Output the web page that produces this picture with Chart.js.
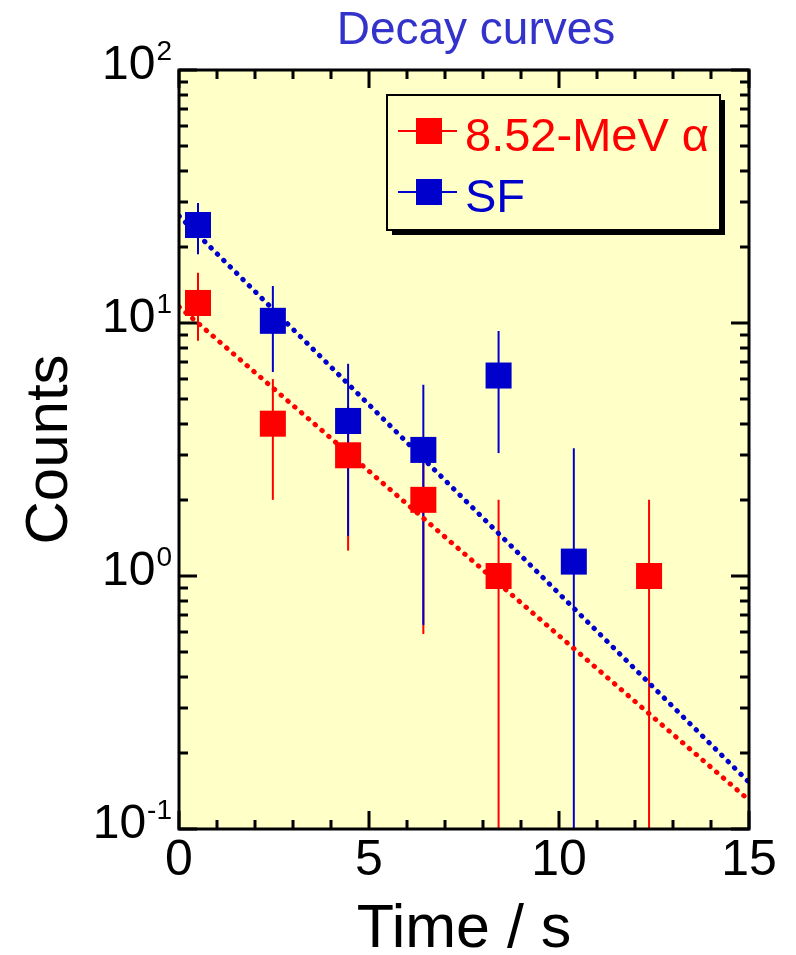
<!DOCTYPE html>
<html>
<head>
<meta charset="utf-8">
<script src="https://cdn.jsdelivr.net/npm/chart.js@4.4.0/dist/chart.umd.min.js"></script>
<style>
  html, body { margin: 0; padding: 0; background: #fff; }
  canvas { display: block; }
</style>
</head>
<body>
<canvas id="decay" width="796" height="955"></canvas>
<script>
// time bins (s)
const tBins = [0.5, 2.47, 4.45, 6.43, 8.41, 10.39, 12.37];

// 8.52-MeV alpha counts with error limits
const alphaCounts = [12, 4, 3, 2, 1, null, 1];
const alphaHigh = [15.8, 6.0, 4.7, 3.4, 2.0, null, 2.0];
const alphaLow = [8.5, 2.0, 1.26, 0.59, 0, null, 0];

// SF counts with error limits
const sfCounts = [24.4, 10.2, 4.1, 3.15, 6.2, 1.14, null];
const sfHigh = [29.8, 14.0, 6.9, 5.7, 9.3, 3.2, null];
const sfLow = [18.7, 6.4, 1.44, 0.64, 3.06, 0, null];

// fitted decay lines (straight on log axis)
const fitT = [0, 15];
const fitAlpha = [11.6, 0.13];
const fitSF = [26.5, 0.153];

// axis ticks
const yTickValues = [0.1, 0.2, 0.3, 0.4, 0.5, 0.6, 0.7, 0.8, 0.9,
  1, 2, 3, 4, 5, 6, 7, 8, 9,
  10, 20, 30, 40, 50, 60, 70, 80, 90, 100];
const yMajor = [0.1, 1, 10, 100];
const yExponents = ['-1', '0', '1', '2'];
const xMajor = [0, 5, 10, 15];

const RED = '#ff0000';
const BLUE = '#0000cc';
const PANEL = '#ffffc8';
const FONT = "'Liberation Sans', Arial, sans-serif";

const pts = (xs, ys) => xs.map((x, i) => ({ x, y: ys[i] })).filter((p) => p.y != null);

// ── Plugins ───────────────────────────────────────────────────────────────
const panelBg = {
    id: 'panelBg',
    beforeDraw(chart) {
        const { ctx, chartArea: a } = chart;
        ctx.save();
        ctx.fillStyle = PANEL;
        ctx.fillRect(a.left, a.top, a.right - a.left, a.bottom - a.top);
        ctx.restore();
    },
};

const errorBars = {
    id: 'errorBars',
    beforeDatasetsDraw(chart) {
        const { ctx, chartArea: a, scales: { x, y } } = chart;
        const draw = (lo, hi, color) => {
            ctx.strokeStyle = color;
            ctx.lineWidth = 2;
            tBins.forEach((t, i) => {
                if (hi[i] == null) return;
                const px = x.getPixelForValue(t);
                const top = y.getPixelForValue(hi[i]);
                const bot = lo[i] > 0 ? y.getPixelForValue(lo[i]) : a.bottom;
                ctx.beginPath();
                ctx.moveTo(px, top);
                ctx.lineTo(px, Math.min(bot, a.bottom));
                ctx.stroke();
            });
        };
        ctx.save();
        draw(alphaLow, alphaHigh, RED);
        draw(sfLow, sfHigh, BLUE);
        ctx.restore();
    },
};

const frame = {
    id: 'frame',
    afterDraw(chart) {
        const { ctx, chartArea: a, scales: { x, y } } = chart;
        ctx.save();
        ctx.strokeStyle = '#000';
        ctx.lineWidth = 3;
        ctx.lineCap = 'butt';
        ctx.beginPath();
        y.ticks.forEach((tk) => {
            const p = Math.round(y.getPixelForValue(tk.value));
            const len = yMajor.includes(tk.value) ? 18 : 9;
            ctx.moveTo(a.left, p); ctx.lineTo(a.left + len, p);
            ctx.moveTo(a.right, p); ctx.lineTo(a.right - len, p);
        });
        x.ticks.forEach((tk) => {
            const p = Math.round(x.getPixelForValue(tk.value));
            const len = xMajor.includes(tk.value) ? 18 : 9;
            ctx.moveTo(p, a.bottom); ctx.lineTo(p, a.bottom - len);
            ctx.moveTo(p, a.top); ctx.lineTo(p, a.top + len);
        });
        ctx.stroke();
        ctx.strokeRect(a.left, a.top, a.right - a.left, a.bottom - a.top);

        // y labels as 10^n
        ctx.fillStyle = '#000';
        ctx.textBaseline = 'alphabetic';
        yMajor.forEach((v, i) => {
            const p = y.getPixelForValue(v);
            ctx.font = `28px ${FONT}`;
            ctx.textAlign = 'right';
            const supW = ctx.measureText(yExponents[i]).width;
            ctx.fillText(yExponents[i], 172, p - 10);
            ctx.font = `48px ${FONT}`;
            ctx.fillText('10', 171 - supW, p + 9);
        });

        // title
        ctx.fillStyle = '#3333cc';
        ctx.font = `46px ${FONT}`;
        ctx.textAlign = 'center';
        ctx.fillText('Decay curves', 476, 44);

        // legend
        const bx = a.left + 208, by = a.top + 25, bw = 333, bh = 135;
        ctx.fillStyle = '#000';
        ctx.fillRect(bx + 5, by + 5, bw, bh);
        ctx.fillStyle = PANEL;
        ctx.fillRect(bx, by, bw, bh);
        ctx.lineWidth = 2;
        ctx.strokeRect(bx, by, bw, bh);
        const items = [
            { text: '8.52-MeV \u03b1', color: RED, cy: by + 36 },
            { text: 'SF', color: BLUE, cy: by + 97 },
        ];
        ctx.textAlign = 'left';
        items.forEach((it) => {
            ctx.strokeStyle = it.color;
            ctx.fillStyle = it.color;
            ctx.beginPath();
            ctx.moveTo(bx + 11, it.cy);
            ctx.lineTo(bx + 70, it.cy);
            ctx.stroke();
            ctx.fillRect(bx + 29, it.cy - 13, 26, 26);
            ctx.font = `47px ${FONT}`;
            ctx.fillText(it.text, bx + 78, it.cy + 20);
        });
        ctx.restore();
    },
};

// ── Chart ─────────────────────────────────────────────────────────────────
const dotted = (color) => ({
    borderColor: color,
    borderWidth: 5,
    borderDash: [0.5, 8.5],
    borderCapStyle: 'round',
    pointRadius: 0,
    showLine: true,
    fill: false,
});

new Chart(document.getElementById('decay'), {
    type: 'scatter',
    data: {
        datasets: [
            { label: 'fit SF', data: pts(fitT, fitSF), order: 4, ...dotted(BLUE) },
            { label: 'fit alpha', data: pts(fitT, fitAlpha), order: 3, ...dotted(RED) },
            {
                label: '8.52-MeV \u03b1',
                data: pts(tBins, alphaCounts),
                order: 2,
                pointStyle: 'rect',
                pointRadius: 18.4,
                pointBackgroundColor: RED,
                pointBorderWidth: 0,
                pointBorderColor: RED,
            },
            {
                label: 'SF',
                data: pts(tBins, sfCounts),
                order: 1,
                pointStyle: 'rect',
                pointRadius: 18.4,
                pointBackgroundColor: BLUE,
                pointBorderWidth: 0,
                pointBorderColor: BLUE,
            },
        ],
    },
    options: {
        responsive: false,
        animation: false,
        devicePixelRatio: 1,
        layout: { padding: { top: 70, right: 47, left: 0, bottom: 0 } },
        plugins: { legend: { display: false }, tooltip: { enabled: false } },
        scales: {
            x: {
                type: 'linear',
                min: 0,
                max: 15,
                grid: { display: false, drawTicks: false },
                border: { display: false },
                ticks: {
                    stepSize: 1,
                    autoSkip: false,
                    maxRotation: 0,
                    padding: 2,
                    color: '#000',
                    font: { family: FONT, size: 50 },
                    callback: (v) => (xMajor.includes(v) ? String(v) : ''),
                },
                title: {
                    display: true,
                    text: 'Time / s',
                    color: '#000',
                    font: { family: FONT, size: 61, lineHeight: 0.9 },
                    padding: { top: 0, bottom: -3 },
                },
                afterFit(s) { s.height = 126; },
            },
            y: {
                type: 'logarithmic',
                min: 0.1,
                max: 100,
                grid: { display: false, drawTicks: false },
                border: { display: false },
                ticks: { display: false },
                afterBuildTicks(s) {
                    s.ticks = yTickValues.map((v) => ({ value: v, major: yMajor.includes(v) }));
                },
                title: {
                    display: true,
                    text: 'Counts',
                    color: '#000',
                    font: { family: FONT, size: 60, lineHeight: 1.2 },
                    padding: { top: 14, bottom: 0 },
                },
                afterFit(s) { s.width = 179; },
            },
        },
    },
    plugins: [panelBg, errorBars, frame],
});
</script>
</body>
</html>
